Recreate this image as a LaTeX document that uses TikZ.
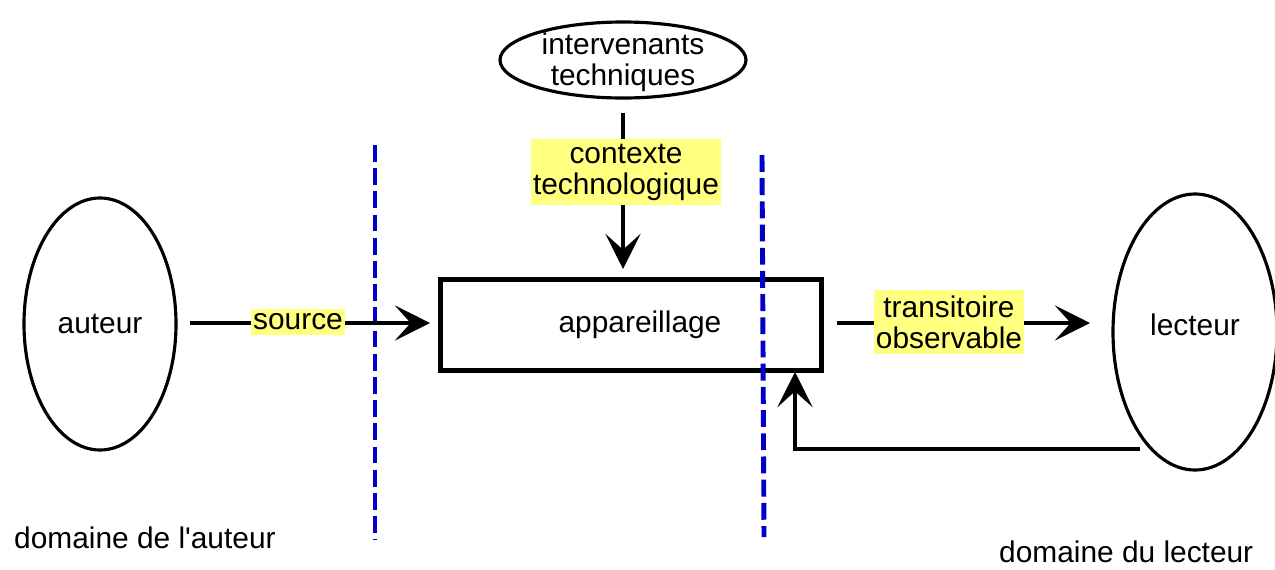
\documentclass[tikz,border=0pt]{standalone}
\usepackage{fontspec}
\setmainfont{Liberation Sans}
\usetikzlibrary{shapes.geometric,arrows.meta}
\definecolor{hl}{RGB}{255,255,128}
\definecolor{dblue}{RGB}{0,0,200}
\tikzset{
  ell/.style={ellipse,draw,line width=1.8pt,inner sep=0pt},
  txt/.style={font=\fontsize{17}{17.6}\selectfont,align=center},
  lab/.style={txt,fill=hl,inner xsep=1pt,inner ysep=3pt},
  conn/.style={line width=2.4pt,-{Stealth[length=20pt,width=20pt,inset=9pt]}},
  border/.style={line width=2.8pt,dblue,dash pattern=on 9.6pt off 3.6pt}
}
\begin{document}
\begin{tikzpicture}[x=0.02cm,y=-0.02cm]
\useasboundingbox (0,0) rectangle (1275,569);
\node[ell,minimum width=152*0.02cm,minimum height=252*0.02cm] (auteur) at (100,324) {};
\node[txt] (auteurtxt) at (auteur.center) {auteur};
\node[ell,minimum width=164*0.02cm,minimum height=276*0.02cm] (lecteur) at (1195,332) {};
\node[txt] (lecteurtxt) at (1195,325) {lecteur};
\node[ell,minimum width=246*0.02cm,minimum height=76*0.02cm] (interv) at (623,60) {};
\node[txt] (intervtxt) at (623,62) {intervenants\\techniques};
\node[draw,line width=2.4pt,minimum width=381*0.02cm,minimum height=91*0.02cm] (app) at (631,325) {};
\node[txt] (apptxt) at (640,325) {appareillage};
% dashed borders
\coordinate (b1t) at (375,145); \coordinate (b1b) at (375,540);
\coordinate (b2t) at (762,155); \coordinate (b2b) at (764,537);
\draw[border] (b1t) -- (b1b);
\draw[border] (b2t) -- (b2b);
% connectors
\coordinate (s1) at (190,323); \coordinate (s2) at (430,323);
\draw[conn] (s1) -- (s2);
\node[lab] (source) at (298,322) {source};
\coordinate (t1) at (837,323); \coordinate (t2) at (1090,323);
\draw[conn] (t1) -- (t2);
\node[lab] (trans) at (949,322) {transitoire\\observable};
\coordinate (c1) at (623,113); \coordinate (c2) at (623,269);
\draw[conn] (c1) -- (c2);
\node[lab] (ctx) at (626,172) {contexte\\technologique};
\coordinate (f1) at (1140,449); \coordinate (f2) at (795,449); \coordinate (f3) at (795,372);
\draw[conn] (f1) -- (f2) -- (f3);
\node[txt,anchor=west] (dauteur) at (8,538) {domaine de l\textquotesingle auteur};
\node[txt,anchor=west] (dlecteur) at (993,552) {domaine du lecteur};
\end{tikzpicture}
\end{document}
